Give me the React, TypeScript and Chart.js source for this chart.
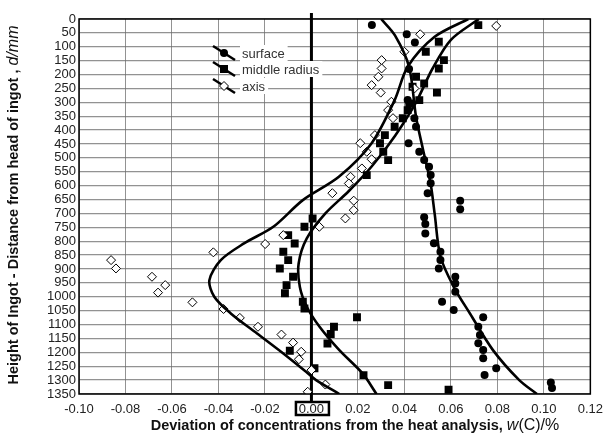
import React, { useEffect, useRef } from 'react';
import { Chart, registerables } from 'chart.js';

Chart.register(...registerables);

// ---- data ----
const xTicks = [-0.1, -0.08, -0.06, -0.04, -0.02, 0, 0.02, 0.04, 0.06, 0.08, 0.1, 0.12];
const yTicks = [0, 50, 100, 150, 200, 250, 300, 350, 400, 450, 500, 550, 600, 650, 700, 750, 800, 850, 900, 950, 1000, 1050, 1100, 1150, 1200, 1250, 1300, 1350];

const legendLabels = ['surface', 'middle radius', 'axis'];

const surfaceX = [0.026, 0.041, 0.0445, 0.042, 0.0414, 0.0443, 0.045, 0.0418, 0.0464, 0.0485, 0.0506, 0.0513, 0.0513, 0.05, 0.064, 0.064, 0.0485, 0.049, 0.049, 0.0527, 0.0555, 0.0555, 0.0548, 0.0619, 0.0619, 0.0619, 0.0562, 0.0612, 0.0739, 0.0718, 0.0725, 0.0718, 0.0739, 0.0739, 0.0795, 0.0745, 0.103, 0.1035];
const surfaceY = [22, 55, 85, 180, 292, 357, 388, 447, 478, 508, 532, 562, 591, 627, 654, 685, 714, 738, 772, 807, 838, 868, 898, 928, 952, 982, 1018, 1048, 1074, 1108, 1138, 1167, 1192, 1221, 1257, 1282, 1309, 1328];

const middleX = [0.0718, 0.0548, 0.0492, 0.057, 0.0548, 0.045, 0.0485, 0.0435, 0.054, 0.0464, 0.0421, 0.0414, 0.0393, 0.0358, 0.0316, 0.0295, 0.0309, 0.033, 0.0238, 0.0005, -0.003, -0.01, -0.0072, -0.0121, -0.01, -0.0136, -0.0079, -0.0107, -0.0114, -0.0037, -0.003, 0.0196, 0.0097, 0.0083, 0.0069, -0.0093, 0.0013, 0.0224, 0.033, 0.059];
const middleY = [22, 82, 118, 148, 178, 208, 232, 244, 265, 292, 304, 328, 357, 388, 418, 447, 478, 508, 562, 718, 748, 778, 808, 838, 868, 898, 928, 958, 987, 1018, 1042, 1074, 1108, 1134, 1168, 1194, 1257, 1282, 1318, 1335];

const axisX = [0.0795, 0.0468, 0.04, 0.0302, 0.0302, 0.0288, 0.0259, 0.0443, 0.0298, 0.0344, 0.033, 0.0351, 0.0273, 0.021, 0.0238, 0.0259, 0.0217, 0.0168, 0.0161, 0.009, 0.0182, 0.0182, 0.0146, 0.0034, -0.0121, -0.0199, -0.0422, -0.0862, -0.0841, -0.0686, -0.0629, -0.066, -0.0512, -0.0378, -0.0308, -0.023, -0.0129, -0.0079, -0.0044, -0.0054, 0.0, 0.006, -0.0016];
const axisY = [25, 55, 118, 148, 178, 208, 238, 250, 265, 298, 328, 357, 418, 447, 478, 505, 538, 568, 592, 627, 654, 688, 718, 748, 778, 810, 840, 868, 898, 928, 958, 985, 1020, 1044, 1076, 1108, 1136, 1165, 1198, 1225, 1264, 1316, 1342];

const surfaceFitX = [0.03, 0.036, 0.042, 0.045, 0.048, 0.0513, 0.053, 0.0555, 0.0612, 0.0682, 0.0781, 0.0894, 0.097];
const surfaceFitY = [0, 60, 172, 352, 470, 594, 700, 855, 964, 1060, 1192, 1300, 1350];

const middleFitX = [0.072, 0.06, 0.052, 0.045, 0.036, 0.026, 0.016, 0.006, -0.002, -0.0055, -0.005, -0.002, 0.0035, 0.012, 0.022, 0.028];
const middleFitY = [0, 75, 180, 300, 420, 530, 620, 700, 790, 880, 964, 1036, 1108, 1192, 1276, 1350];

const axisFitX = [0.0675, 0.053, 0.0414, 0.0358, 0.0259, 0.0118, -0.0037, -0.0164, -0.029, -0.039, -0.0439, -0.0418, -0.0347, -0.0234, -0.0121, -0.0023, 0.002, 0.012];
const axisFitY = [0, 64, 172, 292, 447, 568, 652, 748, 808, 868, 940, 1000, 1060, 1132, 1204, 1270, 1300, 1350];

const xTitle = 'Deviation of concentrations from the heat analysis, ';
const yTitle = 'Height of Ingot - Distance from head of ingot , ';

const FONT = '"Liberation Sans", Arial, sans-serif';

const zip = (xs: number[], ys: number[]) => xs.map((x, i) => ({ x, y: ys[i] }));

function drawMarker(ctx: CanvasRenderingContext2D, kind: number, cx: number, cy: number) {
  ctx.beginPath();
  if (kind === 0) {
    ctx.arc(cx, cy, 4, 0, Math.PI * 2);
    ctx.fillStyle = '#000';
    ctx.fill();
  } else if (kind === 1) {
    ctx.fillStyle = '#000';
    ctx.fillRect(cx - 4, cy - 4, 8, 8);
  } else {
    ctx.moveTo(cx - 4.5, cy);
    ctx.lineTo(cx, cy - 4.5);
    ctx.lineTo(cx + 4.5, cy);
    ctx.lineTo(cx, cy + 4.5);
    ctx.closePath();
    ctx.fillStyle = '#fff';
    ctx.fill();
    ctx.lineWidth = 1;
    ctx.strokeStyle = '#000';
    ctx.stroke();
  }
}

const decor = {
  id: 'decor',
  beforeDatasetsDraw(chart: any) {
    const { ctx, chartArea: a, scales } = chart;
    const zx = scales.x.getPixelForValue(0);
    ctx.save();
    ctx.strokeStyle = '#000';
    ctx.lineWidth = 3;
    ctx.beginPath();
    ctx.moveTo(zx, a.top - 6);
    ctx.lineTo(zx, a.bottom + 8);
    ctx.stroke();
    ctx.restore();
  },
  afterDatasetsDraw(chart: any) {
    const { ctx, chartArea: a, scales } = chart;
    ctx.save();
    // frame
    ctx.strokeStyle = '#000';
    ctx.lineWidth = 1.5;
    ctx.strokeRect(a.left, a.top, a.right - a.left, a.bottom - a.top);
    // box around 0.00
    const zx = scales.x.getPixelForValue(0);
    ctx.lineWidth = 2.5;
    ctx.strokeRect(zx - 15.5, a.bottom + 8, 33, 13);
    // legend
    const cx = 224;
    const cys = [53, 69, 86];
    ctx.font = `13px ${FONT}`;
    ctx.textBaseline = 'middle';
    legendLabels.forEach((lab, i) => {
      const cy = cys[i];
      const w = ctx.measureText(lab).width;
      ctx.fillStyle = '#fff';
      ctx.fillRect(240, cy - 8, w + 5, 16);
      ctx.strokeStyle = '#000';
      ctx.lineWidth = 2.5;
      ctx.beginPath();
      ctx.moveTo(cx - 11, cy - 7);
      ctx.lineTo(cx + 11, cy + 7);
      ctx.stroke();
      drawMarker(ctx, i, cx, cy);
      ctx.fillStyle = '#333';
      ctx.fillText(lab, 242, cy + 1);
    });
    ctx.restore();
  },
  afterDraw(chart: any) {
    const { ctx } = chart;
    ctx.save();
    ctx.fillStyle = '#111';
    ctx.textBaseline = 'middle';
    // x title
    const bf = `bold 14.5px ${FONT}`;
    const itf = `italic 16px ${FONT}`;
    const nf = `16px ${FONT}`;
    ctx.font = bf;
    const w1 = ctx.measureText(xTitle).width;
    ctx.font = itf;
    const w2 = ctx.measureText('w').width;
    ctx.font = nf;
    const w3 = ctx.measureText('(C)/%').width;
    const x0 = 355 - (w1 + w2 + w3) / 2;
    const ty = 426;
    ctx.textAlign = 'left';
    ctx.font = bf;
    ctx.fillText(xTitle, x0, ty);
    ctx.font = itf;
    ctx.fillText('w', x0 + w1, ty);
    ctx.font = nf;
    ctx.fillText('(C)/%', x0 + w1 + w2, ty);
    // y title
    ctx.translate(14, 205);
    ctx.rotate(-Math.PI / 2);
    ctx.font = bf;
    const v1 = ctx.measureText(yTitle).width;
    ctx.font = itf;
    const v2 = ctx.measureText('d/mm').width;
    const s0 = -(v1 + v2) / 2;
    ctx.font = bf;
    ctx.fillText(yTitle, s0, 0);
    ctx.font = itf;
    ctx.fillText('d/mm', s0 + v1, 0);
    ctx.restore();
  },
};

export default function App() {
  const ref = useRef<HTMLCanvasElement>(null);
  useEffect(() => {
    document.body.style.margin = '0';
    const canvas = ref.current!;
    const fitStyle = {
      showLine: true,
      borderColor: '#000',
      borderWidth: 2.6,
      pointRadius: 0,
      tension: 0.3,
      fill: false,
    };
    const chart = new Chart(canvas, {
      type: 'scatter',
      data: {
        datasets: [
          { label: 'surface fit', data: zip(surfaceFitX, surfaceFitY), ...fitStyle },
          { label: 'middle fit', data: zip(middleFitX, middleFitY), ...fitStyle },
          { label: 'axis fit', data: zip(axisFitX, axisFitY), ...fitStyle },
          {
            label: 'axis', data: zip(axisX, axisY), pointStyle: 'rectRot', pointRadius: 4.5,
            backgroundColor: '#fff', borderColor: '#000', borderWidth: 1,
          },
          {
            label: 'middle radius', data: zip(middleX, middleY), pointStyle: 'rect', pointRadius: 5.6,
            backgroundColor: '#000', borderColor: '#000', borderWidth: 0,
          },
          {
            label: 'surface', data: zip(surfaceX, surfaceY), pointStyle: 'circle', pointRadius: 4,
            backgroundColor: '#000', borderColor: '#000', borderWidth: 0,
          },
        ],
      } as any,
      options: {
        animation: false,
        responsive: false,
        maintainAspectRatio: false,
        layout: { padding: { top: 19, right: 12, left: 0, bottom: 0 } },
        plugins: { legend: { display: false }, tooltip: { enabled: false } },
        scales: {
          x: {
            type: 'linear',
            min: -0.1,
            max: 0.12,
            afterBuildTicks: (s: any) => { s.ticks = xTicks.map((v) => ({ value: v })); },
            afterFit: (s: any) => { s.height = 44; },
            grid: { color: 'rgba(110,110,110,0.75)', lineWidth: 1, drawTicks: false },
            border: { display: false },
            ticks: {
              autoSkip: false,
              maxRotation: 0,
              padding: 8,
              color: '#222',
              font: { family: FONT, size: 13 },
              callback: (v: any) => Number(v).toFixed(2),
            },
          },
          y: {
            type: 'linear',
            reverse: true,
            min: 0,
            max: 1350,
            afterBuildTicks: (s: any) => { s.ticks = yTicks.map((v) => ({ value: v })); },
            afterFit: (s: any) => { s.width = 79; },
            grid: { color: 'rgba(110,110,110,0.75)', lineWidth: 1.3, drawTicks: false },
            border: { display: false },
            ticks: {
              autoSkip: false,
              padding: 3,
              color: '#222',
              font: { family: FONT, size: 13 },
              callback: (v: any) => String(v),
            },
          },
        },
      } as any,
      plugins: [decor],
    });
    return () => chart.destroy();
  }, []);
  return (
    <div style={{ width: 611, height: 438, background: '#fff' }}>
      <canvas ref={ref} width={611} height={438} />
    </div>
  );
}
